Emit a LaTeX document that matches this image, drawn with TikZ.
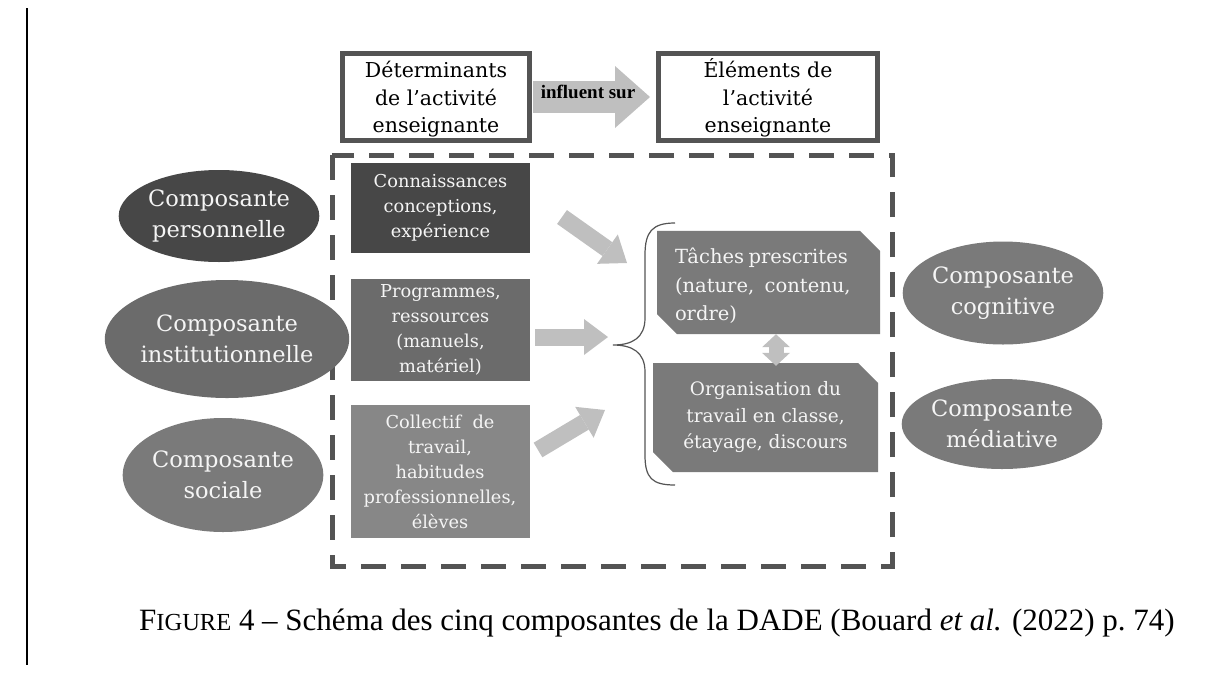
\documentclass[tikz,border=0pt]{standalone}
\usepackage{fontspec}
\setmainfont{Liberation Serif}
\newfontfamily\diag{DejaVu Serif}
\usetikzlibrary{shapes.geometric, shapes.misc, arrows.meta}
\definecolor{frame}{gray}{0.33}
\definecolor{dark}{gray}{0.28}
\definecolor{mid}{gray}{0.42}
\definecolor{soft}{gray}{0.48}
\definecolor{softer}{gray}{0.53}
\definecolor{pale}{gray}{0.75}
\definecolor{ink}{gray}{0.96}
\tikzset{
  headbox/.style={
    rectangle,
    draw=frame,
    line width=5pt,
    fill=white,
    align=center,
    minimum height=85pt,
    font=\diag\fontsize{20.5}{27.5}\selectfont
  },
  comp/.style={
    ellipse,
    fill=#1,
    text=ink,
    align=center,
    inner sep=0pt,
    font=\diag\fontsize{22.5}{31}\selectfont
  },
  block/.style={
    rectangle,
    fill=#1,
    text=ink,
    align=center,
    inner sep=0pt,
    minimum width=179pt,
    font=\diag\fontsize{17.8}{25}\selectfont
  },
  elem/.style={
    chamfered rectangle,
    chamfered rectangle corners={north east, south west},
    chamfered rectangle xsep=10pt,
    chamfered rectangle ysep=10pt,
    fill=soft,
    text=ink,
    inner sep=0pt
  }
}
\tikzstyle{bigarrow} = [-{Triangle[length=35pt, width=62pt, line width=0pt]}, pale, line width=32pt]
\tikzstyle{arrow} = [-{Triangle[length=24pt, width=36pt, line width=0pt]}, pale, line width=17pt]
\tikzstyle{both} = [{Triangle[length=13pt, width=28pt, line width=0pt]}-{Triangle[length=13pt, width=28pt, line width=0pt]}, pale, line width=15pt]
\def\smcaps#1{{\fontsize{24.5}{34}\selectfont #1}}
\def\lift#1{\rule{0pt}{#1}}

\begin{document}
\begin{tikzpicture}[x=1pt, y=-1pt]
    \useasboundingbox (0,0) rectangle (1215,673);
    \draw[line width=2pt] (27,8) -- (27,665);
    % top row
    \node[headbox, minimum width=187pt] (det) at (436,97) {\lift{21pt}Déterminants\\de l’activité\\enseignante};
    \node[headbox, minimum width=219pt] (elm) at (768,97) {\lift{21pt}Éléments de\\l’activité\\enseignante};
    \draw[bigarrow, shorten <=1pt, shorten >=6pt] (det.east) -- (elm.west);
    \node[font=\bfseries\fontsize{19}{22}\selectfont] (infl) at (588,92) {influent sur};
    % dashed frame
    \draw[frame, line width=5pt, dash pattern=on 25pt off 15pt] (332,155) rectangle (892,566);
    % components
    \node[comp=dark, minimum width=178pt, minimum height=92pt] (perso) at (219,216) {Composante\\personnelle};
    \node[comp=mid, minimum width=197pt, minimum height=118pt] (instit) at (227,339) {Composante\\institutionnelle};
    \node[comp=soft, minimum width=173pt, minimum height=114pt] (soc) at (223,475) {Composante\\sociale};
    \node[comp=soft, minimum width=187pt, minimum height=103pt] (cogn) at (1003,293) {Composante\\cognitive};
    \node[comp=soft, minimum width=200pt, minimum height=90pt] (media) at (1002,424) {Composante\\médiative};
    % determinants
    \node[block=dark, minimum height=90pt] (conn) at (440.5,208) {Connaissances\\conceptions,\\expérience};
    \node[block=mid, minimum height=102pt] (prog) at (440.5,330) {Programmes,\\ressources\\(manuels,\\matériel)};
    \node[block=softer, minimum height=133pt] (coll) at (440,471.5) {Collectif\ \ de\\travail,\\habitudes\\professionnelles,\\élèves};
    % elements
    \node[elem, minimum width=223pt, minimum height=91pt, text width=187pt, align=left,
          font=\diag\fontsize{19.5}{28.5}\selectfont] (tach) at (768.5,282.5) {\lift{23pt}Tâches\hspace{-2pt} prescrites\\(nature,\hspace{4pt} contenu,\\ordre)};
    \node[elem, minimum width=225pt, minimum height=109pt, align=center,
          font=\diag\fontsize{18.5}{26.5}\selectfont] (orga) at (765.5,417.5) {Organisation du\\travail en classe,\\étayage, discours};
    \draw[both, shorten >=-3pt] ([xshift=7.5pt]tach.south) -- ([xshift=10.5pt]orga.north);
    % brace
    \coordinate (brace) at (613,345);
    \draw[frame, line width=1.2pt] (675,223) .. controls (652,223) and (645,232) .. (645,255) -- (645,318)
        .. controls (645,338) and (632,345) .. (brace) .. controls (632,345) and (645,352) .. (645,372)
        -- (645,455) .. controls (645,478) and (652,485) .. (675,485);
    \coordinate (a1) at (562,217);
    \coordinate (b1) at (627,263);
    \coordinate (a2) at (535,337);
    \coordinate (b2) at (608,337);
    \coordinate (a3) at (538,450);
    \coordinate (b3) at (605,410);
    \draw[arrow] (a1) -- (b1);
    \draw[arrow] (a2) -- (b2);
    \draw[arrow] (a3) -- (b3);
    % caption
    \node[font=\fontsize{31}{34}\selectfont] (cap) at (657,623) {F\smcaps{IGURE} 4 – Schéma des cinq composantes de la DADE (Bouard \textit{et al.} (2022) p.~74)};
\end{tikzpicture}
\end{document}
